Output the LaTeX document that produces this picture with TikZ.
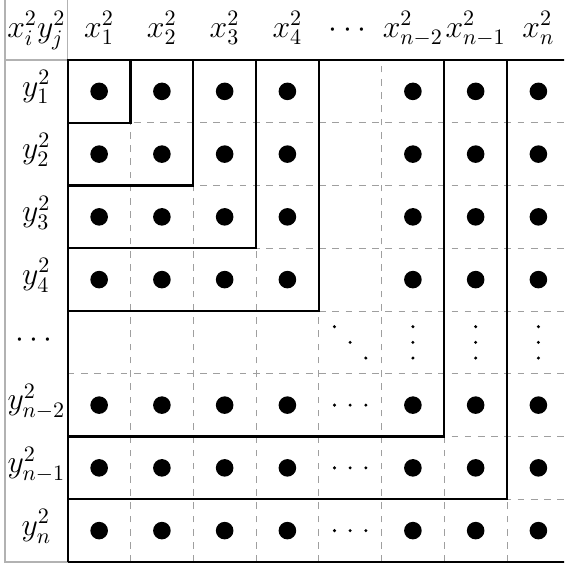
\documentclass[tikz,border=0pt]{standalone}
\usepackage{amsmath,amssymb}
\usepackage{tikz}
\newcommand{\bigdot}[2]{ \fill ( #1 + 0.5 , 8.5 - #2 ) circle (0.14); }
\newcommand{\hdotsA}[2]{ \fill ( #1 + 0.25 , 8.5 - #2 ) circle (0.027); \fill ( #1 + 0.5 , 8.5 - #2 ) circle (0.027); \fill ( #1 + 0.75 , 8.5 - #2 ) circle (0.027);}
\newcommand{\vdotsA}[2]{ \fill ( #1 + 0.5 , 8.75 - #2 ) circle (0.027); \fill ( #1 + 0.5 , 8.5 - #2 ) circle (0.027); \fill ( #1 + 0.5 , 8.25 - #2 ) circle (0.027);}
\newcommand{\ddotsA}[2]{ \fill ( #1 + 0.25 , 8.75 - #2 ) circle (0.027); \fill ( #1 + 0.5 , 8.5 - #2 ) circle (0.027); \fill ( #1 + 0.75 , 8.25 - #2 ) circle (0.027);}

\begin{document}
\begin{tikzpicture}[
    lab/.style={font=\fontsize{14}{17}\selectfont, anchor=mid, inner sep=0pt},
    thin grid/.style={gray!75, line width=0.4pt, dashed},
    frame/.style={gray!60, line width=0.6pt},
    bound/.style={line width=1.1pt}]
        \useasboundingbox (-0.08,-0.048) rectangle (8.908,8.956);
        \clip (-0.08,-0.048) rectangle (8.908,8.956);
        % dashed cells
        \draw[thin grid] (1,0) grid (9,8);
        % header frame
        \draw[frame] (0,9.5) -- (0,0) -- (1,0);
        \draw[frame] (0,8) -- (1,8);
        \draw[frame] (1,9.5) -- (1,8);
        % outer frame
        \draw[bound] (1,0) -- (1,8) -- (9,8);
        \draw[bound] (1,0) -- (9,0);
        \draw[bound] (9,8) -- (9,0);
        % nested corners
        \draw[bound] (2,8) -- (2,7) -- (1,7);
        \draw[bound] (3,8) -- (3,6) -- (1,6);
        \draw[bound] (4,8) -- (4,5) -- (1,5);
        \draw[bound] (5,8) -- (5,4) -- (1,4);
        \draw[bound] (7,8) -- (7,2) -- (1,2);
        \draw[bound] (8,8) -- (8,1) -- (1,1);
        % header row
        \node[lab] (hxy) at (0.5,8.44) {$x_i^2y_j^2$};
        \node[lab] (hx1) at (1.5,8.44) {$x_1^2$};
        \node[lab] (hx2) at (2.5,8.44) {$x_2^2$};
        \node[lab] (hx3) at (3.5,8.44) {$x_3^2$};
        \node[lab] (hx4) at (4.5,8.44) {$x_4^2$};
        \node[lab] (hxdots) at (5.5,8.44) {$\cdots$};
        \node[lab] (hxm2) at (6.5,8.44) {$x_{n-2}^2$};
        \node[lab] (hxm1) at (7.5,8.44) {$x_{n-1}^2$};
        \node[lab] (hxn) at (8.5,8.44) {$x_n^2$};
        % header column
        \node[lab] (vy1) at (0.5,7.5) {$y_1^2$};
        \node[lab] (vy2) at (0.5,6.5) {$y_2^2$};
        \node[lab] (vy3) at (0.5,5.5) {$y_3^2$};
        \node[lab] (vy4) at (0.5,4.5) {$y_4^2$};
        \node[lab] (vydots) at (0.5,3.5) {$\cdots$};
        \node[lab] (vym2) at (0.5,2.5) {$y_{n-2}^2$};
        \node[lab] (vym1) at (0.5,1.5) {$y_{n-1}^2$};
        \node[lab] (vyn) at (0.5,0.5) {$y_n^2$};
        % row1
        \bigdot{1}{1} \bigdot{2}{1} \bigdot{3}{1} \bigdot{4}{1}
        \bigdot{6}{1} \bigdot{7}{1} \bigdot{8}{1}
        % row2
        \bigdot{1}{2} \bigdot{2}{2} \bigdot{3}{2} \bigdot{4}{2}
        \bigdot{6}{2} \bigdot{7}{2} \bigdot{8}{2}
        % row3
        \bigdot{1}{3} \bigdot{2}{3} \bigdot{3}{3} \bigdot{4}{3}
        \bigdot{6}{3} \bigdot{7}{3} \bigdot{8}{3}
        % row4
        \bigdot{1}{4} \bigdot{2}{4} \bigdot{3}{4} \bigdot{4}{4}
        \bigdot{6}{4} \bigdot{7}{4} \bigdot{8}{4}
        % row5
        \ddotsA{5}{5}
        \vdotsA{6}{5} \vdotsA{7}{5} \vdotsA{8}{5}
        % row6
        \bigdot{1}{6} \bigdot{2}{6} \bigdot{3}{6} \bigdot{4}{6}
        \hdotsA{5}{6}
        \bigdot{6}{6} \bigdot{7}{6} \bigdot{8}{6}
        % row7
        \bigdot{1}{7} \bigdot{2}{7} \bigdot{3}{7} \bigdot{4}{7}
        \hdotsA{5}{7}
        \bigdot{6}{7} \bigdot{7}{7} \bigdot{8}{7}
        % row8
        \bigdot{1}{8} \bigdot{2}{8} \bigdot{3}{8} \bigdot{4}{8}
        \hdotsA{5}{8}
        \bigdot{6}{8} \bigdot{7}{8} \bigdot{8}{8}
    \end{tikzpicture}
\end{document}
